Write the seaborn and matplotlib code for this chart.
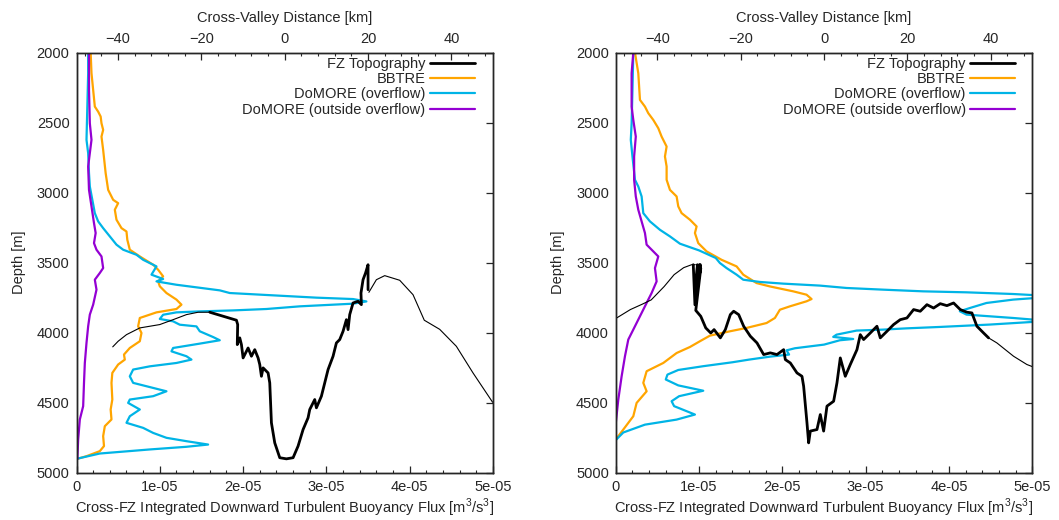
import numpy as np
import pandas as pd
import matplotlib
matplotlib.use("Agg")
import matplotlib.pyplot as plt
from matplotlib.ticker import MultipleLocator, FixedLocator, FixedFormatter
from matplotlib.lines import Line2D
import seaborn as sns

# ---------------- data (flux in units of 1e-5 m^3/s^3, depth in m, distance in km) ----------------
# Left panel
bbtre_L_depth = [2000, 2148, 2386, 2422, 2457, 2505, 2552, 2600, 2695, 2861, 2980, 3051, 3075, 3122, 3193,
                 3253, 3277, 3336, 3407, 3455, 3514, 3550, 3597, 3633, 3668, 3716, 3763, 3799, 3830, 3854,
                 3894, 3953, 4001, 4060, 4108, 4155, 4191, 4226, 4286, 4357, 4476, 4547, 4618, 4666, 4737,
                 4808, 4844, 4880, 4899]
bbtre_L_flux = [0.17, 0.18, 0.22, 0.26, 0.29, 0.30, 0.32, 0.30, 0.32, 0.35, 0.38, 0.44, 0.50, 0.46, 0.48,
                0.54, 0.60, 0.61, 0.64, 0.76, 0.92, 0.98, 1.04, 0.98, 1.00, 1.08, 1.20, 1.26, 1.20, 0.96,
                0.76, 0.74, 0.78, 0.76, 0.64, 0.57, 0.58, 0.50, 0.43, 0.42, 0.43, 0.41, 0.42, 0.34, 0.32,
                0.33, 0.28, 0.12, 0.01]

over_L_depth = [2000, 2148, 2386, 2623, 2718, 2861, 2956, 3051, 3146, 3205, 3253, 3312, 3371, 3407, 3443,
                3479, 3526, 3585, 3616, 3633, 3657, 3697, 3716, 3730, 3749, 3759, 3776, 3792, 3811, 3830,
                3840, 3847, 3854, 3871, 3901, 3918, 3942, 3954, 3989, 4030, 4053, 4077, 4108, 4132, 4167,
                4191, 4215, 4239, 4262, 4310, 4357, 4393, 4417, 4452, 4476, 4500, 4547, 4595, 4642, 4678,
                4714, 4749, 4773, 4797, 4813, 4832, 4861, 4899]
over_L_flux = [0.14, 0.14, 0.13, 0.12, 0.14, 0.15, 0.16, 0.19, 0.22, 0.26, 0.32, 0.40, 0.48, 0.56, 0.72,
               0.80, 0.96, 0.90, 1.04, 0.96, 1.20, 1.72, 1.84, 2.28, 2.88, 3.32, 3.48, 3.32, 2.68, 2.28,
               1.88, 1.48, 1.20, 1.04, 1.00, 1.16, 1.24, 1.44, 1.48, 1.64, 1.72, 1.48, 1.16, 1.14, 1.32,
               1.38, 1.20, 0.88, 0.68, 0.64, 0.68, 0.92, 1.08, 0.92, 0.64, 0.62, 0.76, 0.64, 0.60, 0.80,
               0.92, 1.08, 1.32, 1.58, 1.32, 0.88, 0.28, 0.00]

out_L_depth = [2000, 2267, 2505, 2623, 2718, 2813, 2980, 3098, 3217, 3288, 3360, 3407, 3455, 3538, 3573,
               3621, 3692, 3799, 3870, 3953, 4072, 4215, 4357, 4523, 4618, 4761, 4899]
out_L_flux = [0.15, 0.15, 0.16, 0.18, 0.16, 0.14, 0.15, 0.18, 0.21, 0.23, 0.21, 0.24, 0.30, 0.32, 0.28,
              0.22, 0.24, 0.20, 0.16, 0.14, 0.12, 0.10, 0.09, 0.08, 0.04, 0.02, 0.01]

topo_L_thin1_km = [-41.3, -40.0, -38.0, -34.8, -30.0, -26.8, -23.6, -20.8, -18.0]
topo_L_thin1_depth = [4100, 4060, 4013, 3965, 3941, 3906, 3870, 3853, 3853]
topo_L_thick_km = [-18.0, -11.6, -11.3, -11.4, -10.8, -10.4, -10.0, -8.8, -8.0, -7.2, -6.4, -6.0, -5.6, -5.2,
                   -4.0, -3.6, -3.2, -2.4, -1.2, 0.4, 2.0, 3.2, 4.4, 5.6, 6.0, 7.2, 7.6, 8.8, 9.6, 10.4,
                   11.6, 12.4, 13.2, 14.0, 14.8, 15.2, 15.6, 16.4, 17.6, 18.4, 18.3, 18.8, 19.4, 20.0, 20.0]
topo_L_thick_depth = [3853, 3910, 3941, 4084, 4036, 4084, 4179, 4108, 4167, 4120, 4179, 4226, 4310, 4250,
                      4286, 4357, 4642, 4785, 4891, 4899, 4891, 4808, 4690, 4606, 4547, 4476, 4535, 4452,
                      4357, 4262, 4167, 4072, 4048, 3989, 3906, 3977, 3870, 3787, 3775, 3799, 3716, 3621,
                      3573, 3514, 3692]
topo_L_thin2_km = [20.2, 22.0, 24.0, 27.6, 30.8, 33.5, 37.2, 41.2, 45.2, 49.9]
topo_L_thin2_depth = [3711, 3621, 3592, 3625, 3728, 3910, 3975, 4096, 4286, 4495]

# Right panel
bbtre_R_depth = [2000, 2148, 2338, 2386, 2433, 2481, 2540, 2600, 2671, 2742, 2813, 2908, 2980, 3027, 3098,
                 3146, 3193, 3241, 3288, 3360, 3419, 3479, 3526, 3585, 3645, 3669, 3704, 3728, 3759, 3775,
                 3811, 3835, 3894, 3930, 3965, 3989, 4020, 4060, 4101, 4144, 4215, 4274, 4357, 4417, 4500,
                 4595, 4690, 4761]
bbtre_R_flux = [0.23, 0.27, 0.29, 0.35, 0.39, 0.45, 0.51, 0.55, 0.61, 0.59, 0.61, 0.61, 0.65, 0.73, 0.75,
                0.79, 0.89, 0.97, 0.95, 0.99, 1.09, 1.27, 1.45, 1.53, 1.69, 1.85, 2.13, 2.29, 2.35, 2.29,
                2.09, 1.97, 1.91, 1.81, 1.57, 1.37, 1.13, 1.01, 0.89, 0.73, 0.57, 0.37, 0.33, 0.37, 0.25,
                0.21, 0.09, 0.00]

over_R_depth = [2000, 2267, 2505, 2623, 2742, 2908, 2956, 3027, 3146, 3205, 3265, 3312, 3364, 3412, 3466,
                3502, 3538, 3585, 3621, 3637, 3649, 3663, 3680, 3692, 3704, 3711, 3723, 3740, 3763, 3787,
                3823, 3846, 3870, 3877, 3894, 3915, 3941, 3958, 3968, 3977, 3984, 4013, 4029, 4044, 4053,
                4084, 4110, 4125, 4155, 4170, 4191, 4210, 4238, 4265, 4298, 4333, 4375, 4413, 4452, 4488,
                4523, 4583, 4619, 4655, 4711, 4765]
over_R_flux = [0.21, 0.20, 0.19, 0.18, 0.20, 0.23, 0.27, 0.31, 0.33, 0.41, 0.53, 0.65, 0.77, 1.00, 1.20,
               1.25, 1.33, 1.45, 1.53, 1.73, 2.01, 2.45, 2.77, 3.21, 3.69, 4.21, 4.77, 5.30, 4.77, 4.45,
               4.25, 4.13, 4.21, 4.37, 4.77, 5.20, 4.49, 3.89, 3.49, 3.21, 2.89, 2.65, 2.61, 2.85, 2.69,
               2.50, 2.15, 2.05, 2.08, 1.85, 1.60, 1.40, 1.05, 0.75, 0.62, 0.60, 0.75, 1.05, 0.76, 0.67,
               0.70, 0.95, 0.73, 0.35, 0.09, 0.00]

out_R_depth = [2000, 2148, 2386, 2481, 2600, 2742, 2908, 3027, 3122, 3205, 3288, 3371, 3419, 3455, 3538,
               3633, 3716, 3763, 3882, 3977, 4048, 4167, 4310, 4476, 4642, 4761]
out_R_flux = [0.21, 0.19, 0.19, 0.21, 0.24, 0.22, 0.22, 0.24, 0.27, 0.31, 0.35, 0.37, 0.45, 0.51, 0.47,
              0.49, 0.43, 0.39, 0.29, 0.21, 0.15, 0.11, 0.07, 0.03, 0.00, 0.00]

topo_R_thin1_km = [-49.8, -46.5, -43.6, -41.5, -38.4, -36.0, -33.7, -31.8, -30.9]
topo_R_thin1_depth = [3894, 3834, 3795, 3765, 3670, 3585, 3535, 3514, 3514]
topo_R_thick_km = [-31.4, -31.0, -30.4, -30.8, -29.9, -30.6, -29.7, -30.4, -29.6, -30.8, -29.6,
                   -28.4, -27.2, -26.4, -24.9, -23.7, -22.5, -21.7, -20.5, -19.3, -17.7, -16.1, -14.5,
                   -12.9, -11.3, -9.7, -9.3, -8.1, -6.5, -5.3, -4.9, -4.1, -3.7, -3.3, -1.7, -0.9, -0.1,
                   0.7, 2.3, 3.1, 3.9, 5.1, 6.3, 7.9, 8.7, 9.5, 11.1, 12.7, 13.5, 15.1, 16.7, 18.3, 19.9,
                   21.5, 23.1, 24.7, 26.3, 27.9, 29.5, 31.1, 32.7, 34.3, 35.5, 36.7, 38.3, 39.5]
topo_R_thick_depth = [3514, 3800, 3514, 3780, 3514, 3700, 3514, 3650, 3540, 3840, 3882,
                      3965, 4001, 3977, 4036, 3977, 3870, 3846, 3870, 3953, 4024, 4072, 4155,
                      4143, 4155, 4120, 4191, 4215, 4286, 4310, 4381, 4642, 4785, 4701, 4690, 4583, 4701,
                      4523, 4488, 4357, 4179, 4310, 4226, 4120, 4013, 4048, 4001, 3953, 4036, 3989, 3941,
                      3906, 3894, 3834, 3846, 3799, 3823, 3792, 3806, 3787, 3834, 3853, 3858, 3953, 4001,
                      4036]
topo_R_thin2_km = [39.5, 41.5, 45.5, 48.7, 51.4]
topo_R_thin2_depth = [4036, 4072, 4167, 4226, 4257]

# axis ticks / labels
flux_ticks = [0, 1e-05, 2e-05, 3e-05, 4e-05, 5e-05]
flux_tick_labels = ["0", "1e-05", "2e-05", "3e-05", "4e-05", "5e-05"]
depth_ticks = [2000, 2500, 3000, 3500, 4000, 4500, 5000]
dist_ticks = [-40, -20, 0, 20, 40]
legend_labels = ["FZ Topography", "BBTRE", "DoMORE (overflow)", "DoMORE (outside overflow)"]

C_ORANGE = "#ffa500"
C_CYAN = "#00b4e6"
C_PURPLE = "#9400d3"
C_BLACK = "#000000"
FS = 10.5

# ---------------- style ----------------
sns.set_style("white")
plt.rcParams["font.family"] = ["Liberation Sans", "DejaVu Sans"]
plt.rcParams["font.size"] = FS
plt.rcParams["axes.linewidth"] = 1.0
plt.rcParams["mathtext.fontset"] = "custom"
plt.rcParams["mathtext.rm"] = "Liberation Sans"

fig = plt.figure(figsize=(10.59, 5.2), dpi=100)
W, H = 1059.0, 520.0


def prof(ax, depth, flux, color, lw=1.6):
    df = pd.DataFrame({"depth": depth, "flux": np.array(flux) * 1e-5})
    sns.lineplot(data=df, x="flux", y="depth", sort=False, estimator=None, color=color,
                 lw=lw, ax=ax, legend=False)


def topo(ax, km, depth, lw):
    df = pd.DataFrame({"km": km, "depth": depth})
    sns.lineplot(data=df, x="km", y="depth", sort=False, estimator=None, color=C_BLACK,
                 lw=lw, ax=ax, legend=False)


def panel(left_px, bbtre, over, out, topo_parts, leg_x):
    ax = fig.add_axes([left_px / W, 1 - 473.0 / H, 416.5 / W, 420.5 / H])
    prof(ax, *bbtre, C_ORANGE)
    prof(ax, *over, C_CYAN)
    prof(ax, *out, C_PURPLE)
    ax.set_xlim(0, 5e-5)
    ax.set_ylim(5000, 2000)
    ax.xaxis.set_major_locator(FixedLocator(flux_ticks))
    ax.xaxis.set_major_formatter(FixedFormatter(flux_tick_labels))
    ax.xaxis.set_minor_locator(MultipleLocator(0.2e-5))
    ax.yaxis.set_major_locator(FixedLocator(depth_ticks))
    ax.set_xlabel("Cross-FZ Integrated Downward Turbulent Buoyancy Flux [m$^3$/s$^3$]", labelpad=2)
    ax.set_ylabel("Depth [m]", labelpad=8)

    ax2 = ax.twiny()
    for km, dep, lw in topo_parts:
        topo(ax2, km, dep, lw)
    ax2.set_xlim(-50, 50)
    ax2.set_ylim(5000, 2000)
    ax2.xaxis.set_major_locator(FixedLocator(dist_ticks))
    ax2.xaxis.set_minor_locator(MultipleLocator(4))
    ax2.set_xlabel("Cross-Valley Distance [km]", labelpad=7)
    ax2.set_ylabel("")

    ax.tick_params(axis="both", which="major", direction="in", length=5, width=0.9, pad=5,
                   labelsize=FS, top=False, right=True)
    ax.tick_params(axis="x", which="minor", direction="in", length=2.5, width=0.8, top=False)
    ax.tick_params(axis="y", which="minor", left=False, right=False)
    ax2.tick_params(axis="x", which="major", direction="in", length=5, width=0.9, pad=5,
                    labelsize=FS, top=True, bottom=False)
    ax2.tick_params(axis="x", which="minor", direction="in", length=2.5, width=0.8, top=True,
                    bottom=False)
    for s in ax.spines.values():
        s.set_linewidth(1.0)
        s.set_color("black")

    handles = [Line2D([], [], color=C_BLACK, lw=2.0),
               Line2D([], [], color=C_ORANGE, lw=1.6),
               Line2D([], [], color=C_CYAN, lw=1.6),
               Line2D([], [], color=C_PURPLE, lw=1.6)]
    ax2.legend(handles, legend_labels, loc="upper right", bbox_to_anchor=(leg_x, 0.990),
               frameon=False, markerfirst=False, borderpad=0, handlelength=3.1,
               handletextpad=0.3, labelspacing=0.09, fontsize=FS, borderaxespad=0)
    return ax, ax2


panel(76.5,
      (bbtre_L_depth, bbtre_L_flux), (over_L_depth, over_L_flux), (out_L_depth, out_L_flux),
      [(topo_L_thin1_km, topo_L_thin1_depth, 0.8),
       (topo_L_thick_km, topo_L_thick_depth, 2.0),
       (topo_L_thin2_km, topo_L_thin2_depth, 0.8)],
      0.957)
panel(615.8,
      (bbtre_R_depth, bbtre_R_flux), (over_R_depth, over_R_flux), (out_R_depth, out_R_flux),
      [(topo_R_thin1_km, topo_R_thin1_depth, 0.8),
       (topo_R_thick_km, topo_R_thick_depth, 2.0),
       (topo_R_thin2_km, topo_R_thin2_depth, 0.8)],
      0.959)

fig.savefig("out.png", dpi=100, facecolor="white")
